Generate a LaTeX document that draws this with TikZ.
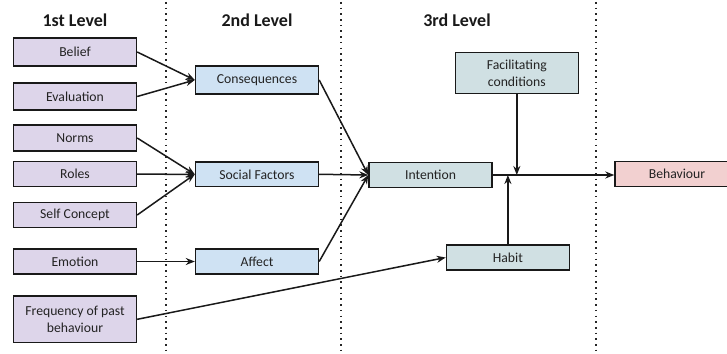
\documentclass[tikz,border=0pt]{standalone}
\usepackage{fontspec}
\setmainfont{Carlito}
\usetikzlibrary{arrows.meta}
\definecolor{lvlone}{RGB}{221,213,234}
\definecolor{lvltwo}{RGB}{207,226,243}
\definecolor{lvlthree}{RGB}{208,224,227}
\definecolor{outcome}{RGB}{242,208,208}
\definecolor{txt}{RGB}{35,35,35}
\tikzset{
  box/.style={draw=black!90, line width=1.4pt, inner sep=0pt, align=center,
    minimum width=123pt, text=txt, font=\fontsize{13.7}{16.7}\selectfont},
  onebox/.style={box, fill=lvlone},
  twobox/.style={box, fill=lvltwo},
  threebox/.style={box, fill=lvlthree},
  outbox/.style={box, fill=outcome},
  link/.style={line width=1.5pt, draw=black!90, -{Stealth[length=9pt,width=7pt]}},
  divider/.style={line width=2pt, dash pattern=on 1.6pt off 4.1pt, draw=black!85},
  heading/.style={font=\bfseries\fontsize{18}{20}\selectfont, anchor=base, text=black!90}
}
\begin{document}
\begin{tikzpicture}[x=1pt, y=-1pt]
  \useasboundingbox (0,0) rectangle (727,353);
  \clip (0,0) rectangle (727,353);

  % column separators
  \draw[divider] (165.7,2) -- (165.7,353);
  \draw[divider] (340.7,2) -- (340.7,353);
  \draw[divider] (596,2) -- (596,353);

  % column titles
  \node[heading] (h1) at (75,26.7) {1st Level};
  \node[heading] (h2) at (257,26.7) {2nd Level};
  \node[heading] (h3) at (457,26.7) {3rd Level};

  % first level
  \node[onebox, minimum height=28pt] (belief) at (75,52) {Belief};
  \node[onebox, minimum height=27pt] (eval) at (75,96.5) {Evaluation};
  \node[onebox, minimum height=26pt] (norms) at (75,138) {Norms};
  \node[onebox, minimum height=25pt] (roles) at (75,174.2) {Roles};
  \node[onebox, minimum height=24.5pt] (self) at (75,215) {Self Concept};
  \node[onebox, minimum height=25pt] (emotion) at (75,261.5) {Emotion};
  \node[onebox, minimum height=46.7pt] (freq) at (75,319.3) {Frequency of past\\behaviour};

  % second level
  \node[twobox, minimum height=28pt] (cons) at (257,80) {Consequences};
  \node[twobox, minimum height=24.7pt] (social) at (257,174.3) {Social Factors};
  \node[twobox, minimum height=25pt] (affect) at (257,261.5) {Affect};

  % third level
  \node[threebox, minimum height=41.4pt] (facil) at (516.8,73) {Facilitating\\conditions};
  \node[threebox, minimum height=24.6pt] (intent) at (430.5,175) {Intention};
  \node[threebox, minimum height=25pt] (habit) at (507.9,257.5) {Habit};

  % outcome
  \node[outbox, minimum width=124pt, minimum height=24.5pt] (behav) at (677,174) {Behaviour};

  % first to second level
  \draw[link] (belief.east) -- (cons.west);
  \draw[link] (eval.east) -- (cons.west);
  \draw[link] (norms.east) -- (social.west);
  \draw[link] (roles.east) -- (social.west);
  \draw[link] (self.east) -- (social.west);
  \draw[link] (emotion.east) -- (affect.west);
  \draw[link] (freq.east) -- (habit.west);

  % second to third level
  \draw[link] (cons.east) -- (intent.west);
  \draw[link] (social.east) -- (intent.west);
  \draw[link] (affect.east) -- (intent.west);

  % intention to behaviour, moderated by conditions and habit
  \coordinate (jf) at (facil.south |- intent.east);
  \coordinate (jh) at (habit.north |- intent.east);
  \draw[link] (intent.east) -- (behav.west |- intent.east);
  \draw[link] (facil.south) -- (jf);
  \draw[link] (habit.north) -- (jh);
\end{tikzpicture}
\end{document}
